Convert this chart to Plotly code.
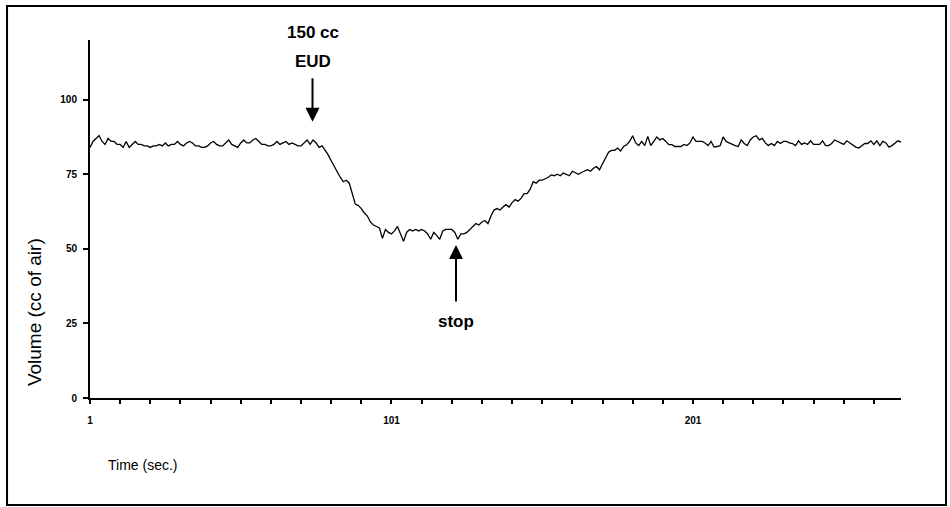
import plotly.graph_objects as go

# ---- data ----
volume = [
    84, 86, 87, 88, 86, 85, 87, 86, 86, 85,
    85, 84, 86, 84, 85, 86, 85, 85, 84.5, 84.5,
    84, 84.5, 84.5, 85, 84.5, 85.5, 84.5, 85, 85, 86,
    85, 84.5, 85.5, 86, 85.5, 84.5, 84.5, 84, 84, 84.5,
    85.5, 86, 85, 84.5, 84.5, 85.5, 86.5, 85, 84.5, 84,
    85.5, 86.5, 85.5, 85.5, 86.5, 87, 86, 85, 85, 84.5,
    84.5, 85, 86, 85, 85.5, 86, 85, 85.5, 85, 84.5,
    84.5, 85.5, 86.5, 85, 86.5, 85.5, 84, 84.5, 83, 81.5,
    79.5, 77.5, 75.5, 74, 72.5, 73, 72, 68, 65, 64.5,
    63.5, 62, 61, 59, 58, 57.5, 57, 53.5, 56.5, 55.5,
    55, 56, 57.5, 55, 52.5, 55.5, 56.5, 56, 56.5, 56,
    56.5, 56, 55, 53.2, 55.5, 54.5, 53.2, 56, 56.5, 56.5,
    56.5, 55.5, 53.2, 55, 55, 55.5, 56.5, 57.5, 58.5, 58,
    59, 59.5, 58.5, 61, 63, 63.5, 63, 64, 64.8, 64,
    65.5, 66.5, 66, 67, 68.5, 68.5, 70, 72.5, 72, 73,
    73, 73.5, 74, 74.8, 74.5, 75, 74.5, 75.4, 75, 74.5,
    76, 75.5, 75, 75.6, 76, 76.5, 76, 77, 77.6, 76.5,
    78.5, 80.5, 82.4, 83, 83, 83.8, 82.8, 84.3, 84.9, 86,
    87.9, 85.5, 84.6, 86, 84.6, 87.7, 84.6, 86, 87.5, 86.5,
    87, 86, 84.9, 84.9, 84.3, 84.3, 84.3, 85, 84.6, 85.5,
    87.5, 86, 86, 86, 85.5, 84.6, 86, 84.1, 84.3, 84.6,
    87.5, 86, 85.5, 85, 84.6, 84.3, 86.5, 85.3, 84.6, 86.5,
    87.5, 87.9, 86.5, 87, 85.5, 84.6, 85.3, 84.6, 86, 85.3,
    86, 86, 85.5, 85.3, 84.6, 86.2, 85, 85.5, 85, 86.2,
    85, 85, 85, 86.2, 84.6, 84.6, 85.3, 86.5, 86, 85.3,
    85, 86.2, 85.5, 85, 84.1, 83.8, 84.6, 85.3, 85.3, 86.2,
    85, 86.2, 84.6, 86, 85.5, 84.1, 84.6, 85.5, 86.2, 85.8,
]
time_sec = list(range(1, len(volume) + 1))

y_ticks = [0, 25, 50, 75, 100]
x_tick_vals = list(range(1, 270, 10))
x_tick_labels_shown = {1: "1", 101: "101", 201: "201"}
x_tick_text = [x_tick_labels_shown.get(v, "") for v in x_tick_vals]

eud_time, eud_tip = 74.8, 92.6
stop_time, stop_tip = 122.4, 51.3

fig = go.Figure()
fig.add_trace(go.Scatter(
    x=time_sec, y=volume, mode="lines",
    line=dict(color="black", width=1.3),
    showlegend=False, hoverinfo="skip",
))

tickfont = dict(family="Liberation Sans, Arial, sans-serif", size=10, color="black", weight="bold")

fig.update_layout(
    width=950, height=507,
    margin=dict(l=90, r=49, t=40, b=109),
    paper_bgcolor="white", plot_bgcolor="white",
    xaxis=dict(
        range=[1, 270], showgrid=False, zeroline=False,
        showline=True, linecolor="black", linewidth=2,
        ticks="outside", ticklen=4, tickwidth=1.5, tickcolor="black",
        tickvals=x_tick_vals, ticktext=x_tick_text, tickfont=tickfont,
        ticklabelstandoff=8,
    ),
    yaxis=dict(
        range=[0, 120], showgrid=False, zeroline=False,
        showline=True, linecolor="black", linewidth=2,
        ticks="outside", ticklen=5, tickwidth=1.5, tickcolor="black",
        tickvals=y_ticks, tickfont=tickfont, ticklabelstandoff=4,
    ),
    font=dict(family="Liberation Sans, Arial, sans-serif", color="black"),
)

# outer frame
fig.add_shape(type="rect", xref="paper", yref="paper",
              x0=-0.1023, x1=1.0555, y0=-0.2989, y1=1.095,
              line=dict(color="black", width=2))

# axis titles
fig.add_annotation(text="Volume (cc of air)", xref="paper", yref="paper",
                   x=-0.069, y=0.24, xanchor="center", yanchor="middle",
                   textangle=-90, showarrow=False, font=dict(size=19))
fig.add_annotation(text="Time (sec.)", xref="paper", yref="paper",
                   x=0.065, y=-0.187, xanchor="center", yanchor="middle",
                   showarrow=False, font=dict(size=14))

# event annotations
bold = dict(size=17, weight="bold")
fig.add_annotation(text="150 cc", x=eud_time, y=1.022, xref="x", yref="paper",
                   xanchor="center", yanchor="middle", showarrow=False, font=bold)
fig.add_annotation(text="EUD", x=eud_time, y=0.94, xref="x", yref="paper",
                   xanchor="center", yanchor="middle", showarrow=False, font=bold)
fig.add_annotation(text="", x=eud_time, y=eud_tip, xref="x", yref="y",
                   showarrow=True, ax=0, ay=-45, arrowhead=2, arrowsize=1.4,
                   arrowwidth=2, arrowcolor="black")
fig.add_annotation(text="stop", x=stop_time, y=25.5, xref="x", yref="y",
                   xanchor="center", yanchor="middle", showarrow=False, font=bold)
fig.add_annotation(text="", x=stop_time, y=stop_tip, xref="x", yref="y",
                   showarrow=True, ax=0, ay=58, arrowhead=2, arrowsize=1.4,
                   arrowwidth=2, arrowcolor="black")

fig.write_html("out.html")
